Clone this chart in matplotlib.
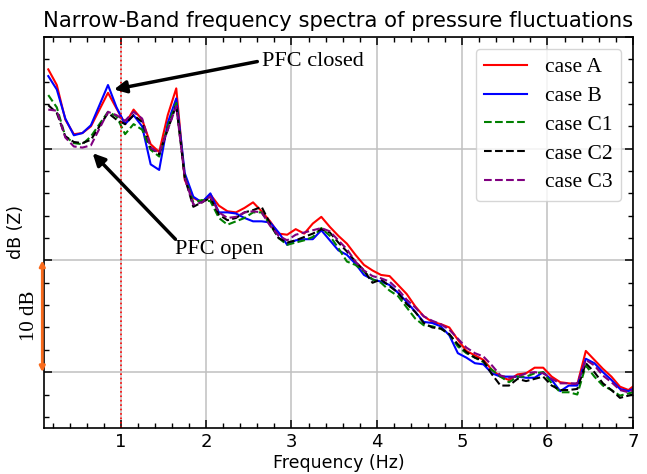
import numpy as np
import matplotlib
matplotlib.use("Agg")
import matplotlib.pyplot as plt
from matplotlib.ticker import MultipleLocator, NullFormatter

freq = [0.15, 0.25, 0.35, 0.45, 0.55, 0.65, 0.75, 0.85, 0.95, 1.05,
        1.15, 1.25, 1.35, 1.45, 1.55, 1.65, 1.75, 1.85, 1.95, 2.05,
        2.15, 2.25, 2.35, 2.45, 2.55, 2.65, 2.75, 2.85, 2.95, 3.05,
        3.15, 3.25, 3.35, 3.45, 3.55, 3.65, 3.75, 3.85, 3.95, 4.05,
        4.15, 4.25, 4.35, 4.45, 4.55, 4.65, 4.75, 4.85, 4.95, 5.05,
        5.15, 5.25, 5.35, 5.45, 5.55, 5.65, 5.75, 5.85, 5.95, 6.05,
        6.15, 6.25, 6.35, 6.45, 6.55, 6.65, 6.75, 6.85, 6.95, 7.05]

case_A = [27.1, 25.7, 22.6, 21.3, 21.4, 22.0, 23.5, 25.0, 23.6, 22.2,
          23.5, 22.6, 20.4, 19.7, 23.0, 25.4, 17.2, 15.6, 15.2, 15.9,
          14.9, 14.4, 14.3, 14.7, 15.2, 14.4, 13.5, 12.4, 12.3, 12.8,
          12.4, 13.3, 13.9, 13.0, 12.2, 11.5, 10.5, 9.6, 9.1, 8.7,
          8.6, 7.8, 7.0, 5.9, 5.0, 4.5, 4.3, 4.0, 2.9, 1.9,
          1.5, 1.1, 0.2, -0.4, -0.7, -0.2, -0.1, 0.4, 0.4, -0.4,
          -0.9, -1.0, -1.1, 1.9, 1.1, 0.3, -0.4, -1.3, -1.6, -1.0]

case_B = [26.5, 25.3, 22.7, 21.2, 21.4, 22.1, 23.9, 25.7, 23.7, 22.2,
          23.0, 22.0, 18.6, 18.1, 22.3, 24.5, 17.8, 15.7, 15.2, 16.0,
          14.3, 14.3, 14.2, 13.8, 13.5, 13.5, 13.4, 12.5, 11.4, 11.8,
          11.9, 11.9, 12.7, 11.8, 10.9, 10.5, 9.7, 8.7, 8.3, 8.1,
          7.8, 7.1, 6.3, 5.4, 4.5, 4.4, 4.1, 3.3, 1.7, 1.3,
          0.8, 0.7, -0.1, -0.4, -0.4, -0.4, -0.5, -0.5, 0.0, -0.7,
          -1.7, -1.2, -1.2, 1.2, 0.8, 0.0, -0.7, -1.5, -1.7, -1.3]

case_C1 = [24.8, 23.7, 21.1, 20.5, 20.4, 21.1, 22.2, 23.3, 22.9, 21.3,
           22.2, 21.7, 19.9, 19.3, 22.0, 24.1, 17.5, 15.2, 15.4, 15.3,
           13.8, 13.2, 13.5, 13.8, 14.3, 14.3, 13.2, 12.0, 11.4, 11.6,
           11.8, 12.1, 12.9, 12.2, 11.1, 9.9, 9.6, 9.0, 8.3, 8.0,
           7.3, 6.8, 5.8, 4.8, 4.2, 4.1, 3.9, 3.4, 2.3, 1.7,
           1.3, 0.9, 0.2, -0.4, -0.9, -0.4, -0.4, -0.1, 0.0, -1.0,
           -1.8, -1.8, -2.0, 0.6, -0.4, -1.2, -1.6, -2.1, -1.9, -1.7]

case_C2 = [23.9, 23.2, 21.1, 20.6, 20.5, 20.8, 22.0, 23.2, 22.6, 22.2,
           23.0, 22.4, 20.1, 19.5, 21.7, 23.9, 17.4, 14.8, 15.2, 15.6,
           14.1, 13.6, 13.8, 14.3, 14.5, 14.8, 13.3, 12.0, 11.6, 11.8,
           12.1, 12.4, 12.8, 12.5, 11.6, 10.8, 9.9, 9.1, 8.0, 8.3,
           7.7, 7.1, 6.1, 5.4, 4.4, 4.0, 3.9, 3.4, 2.5, 1.8,
           1.3, 1.0, -0.2, -1.2, -1.2, -0.6, -0.8, -0.6, -0.4, -1.2,
           -1.6, -1.6, -1.5, 0.8, 0.0, -1.0, -1.6, -2.3, -2.1, -1.9]

case_C3 = [23.5, 23.4, 21.0, 20.2, 20.1, 20.3, 21.8, 23.3, 23.0, 22.5,
           23.3, 22.7, 20.1, 19.6, 21.7, 23.8, 17.4, 15.0, 15.2, 15.7,
           14.3, 13.8, 13.9, 14.3, 14.4, 14.3, 13.1, 12.2, 11.8, 12.3,
           12.5, 12.7, 12.9, 12.6, 11.8, 11.0, 9.9, 9.1, 8.6, 8.4,
           8.1, 7.4, 6.5, 5.8, 5.0, 4.6, 4.3, 3.8, 3.0, 2.2,
           1.7, 1.4, 0.6, -0.3, -0.5, -0.4, -0.1, 0.0, -0.1, -0.6,
           -1.0, -1.0, -1.0, 1.1, 0.6, -0.3, -0.9, -1.6, -1.8, -1.4]

labels = ["case A", "case B", "case C1", "case C2", "case C3"]
colors = ["red", "blue", "green", "black", "purple"]
styles = ["-", "-", "--", "--", "--"]

fig = plt.figure(figsize=(6.47, 4.74), dpi=100)
ax = fig.add_axes([0.068, 0.097, 0.910, 0.825])

for ys, lab, c, ls in zip([case_A, case_B, case_C1, case_C2, case_C3], labels, colors, styles):
    ax.plot(freq, ys, color=c, linestyle=ls, lw=1.5, label=lab)

ax.axvline(1.0, color="red", linestyle=":", lw=1.2)

ax.set_xlim(0.1, 7.0)
ax.set_ylim(-5, 30)
ax.xaxis.set_major_locator(MultipleLocator(1))
ax.xaxis.set_minor_locator(MultipleLocator(0.2))
ax.yaxis.set_major_locator(MultipleLocator(10))
ax.yaxis.set_minor_locator(MultipleLocator(2))
ax.yaxis.set_major_formatter(NullFormatter())
ax.tick_params(which="both", direction="in", top=True, right=True, labelsize=13)
ax.tick_params(which="major", length=6, width=1.1)
ax.tick_params(which="minor", length=3.5, width=1.0)
ax.grid(True, which="major", color="#c0c0c0", lw=1.1)
for s in ax.spines.values():
    s.set_linewidth(1.2)

ax.set_title("Narrow-Band frequency spectra of pressure fluctuations", fontsize=15.2, pad=7)
ax.set_xlabel("Frequency (Hz)", fontsize=12.5, labelpad=2)
ax.set_ylabel("dB (Z)", fontsize=12.5, labelpad=10)

serif = "Liberation Serif"
ax.legend(loc="upper right", prop={"family": serif, "size": 15.5}, framealpha=0.8,
          borderaxespad=0.55, labelspacing=0.4)

ax.annotate("", xy=(0.92, 25.3), xytext=(2.60, 27.8),
            arrowprops=dict(arrowstyle="-|>", lw=2.5, color="black", mutation_scale=18,
                            shrinkA=0, shrinkB=0))
ax.text(2.66, 27.8, "PFC closed", family=serif, fontsize=16, ha="left", va="center")

ax.annotate("", xy=(0.67, 19.6), xytext=(1.64, 11.9),
            arrowprops=dict(arrowstyle="-|>", lw=2.5, color="black", mutation_scale=18,
                            shrinkA=0, shrinkB=0))
ax.text(1.64, 11.0, "PFC open", family=serif, fontsize=16, ha="left", va="center")

ax.annotate("", xy=(0.08, 0), xytext=(0.08, 10), annotation_clip=False,
            arrowprops=dict(arrowstyle="<|-|>", lw=2.0, color="#f96a1b", mutation_scale=8,
                            shrinkA=0, shrinkB=0))
ax.text(-0.07, 5, "10 dB", family=serif, fontsize=15, rotation=90, ha="center", va="center",
        clip_on=False)

fig.savefig("out.png", dpi=100)
